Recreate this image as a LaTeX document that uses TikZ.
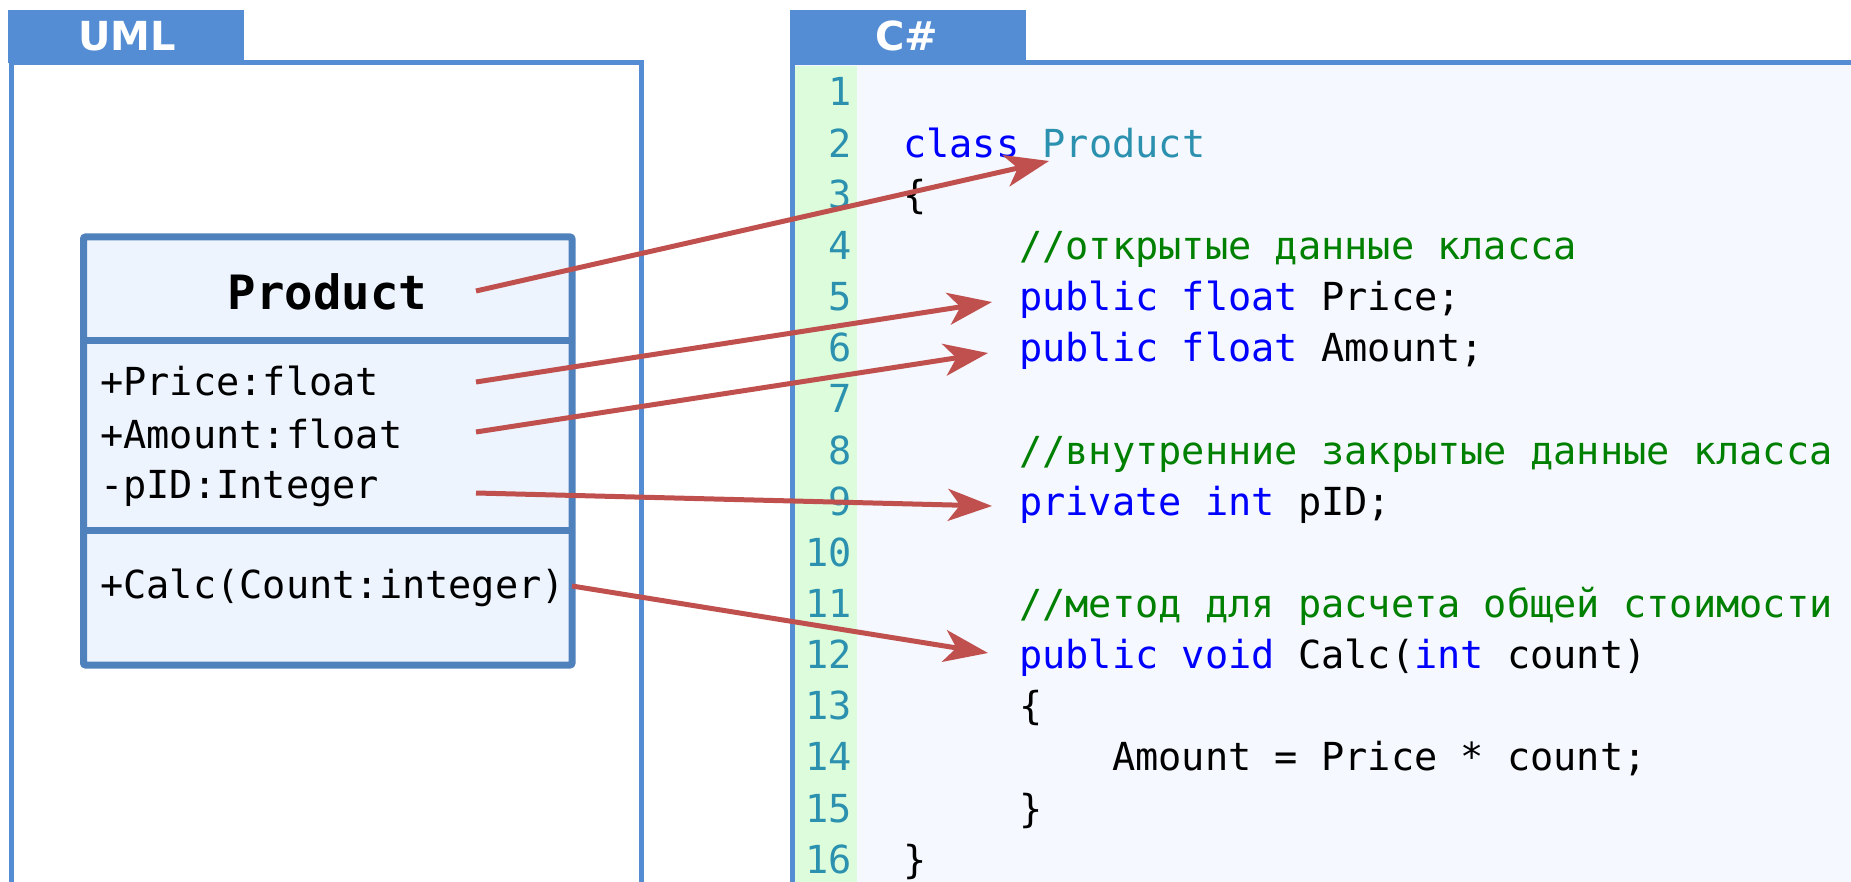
\documentclass[tikz,border=0pt]{standalone}
\usepackage{fontspec}
\usetikzlibrary{arrows.meta}
\newfontfamily\codefont{DejaVu Sans Mono}
\newfontfamily\tabfont{DejaVu Sans}
\definecolor{tabblue}{HTML}{548DD4}
\definecolor{umlblue}{HTML}{4F81BD}
\definecolor{umlfill}{HTML}{EDF4FE}
\definecolor{codebg}{HTML}{F5F8FE}
\definecolor{gutter}{HTML}{DCFCDC}
\definecolor{linkred}{HTML}{C0504D}
\definecolor{kwblue}{HTML}{0000FF}
\definecolor{typeteal}{HTML}{2B91AF}
\definecolor{cmtgreen}{HTML}{008000}
\newcommand{\kw}[1]{\textcolor{kwblue}{#1}}
\newcommand{\tp}[1]{\textcolor{typeteal}{#1}}
\newcommand{\cmt}[1]{\textcolor{cmtgreen}{#1}}
\begin{document}
\begin{tikzpicture}[x=1pt,y=-1pt,>={Stealth[length=44pt,width=32pt,inset=12pt]},
   code/.style={anchor=base west,inner sep=0,font=\codefont\fontsize{38.6}{46}\selectfont},
   lnum/.style={anchor=base east,inner sep=0,text=typeteal,font=\codefont\fontsize{38.6}{46}\selectfont},
   tab/.style={anchor=base,inner sep=0,text=white,font=\tabfont\bfseries\fontsize{40}{48}\selectfont},
   link/.style={->,draw=linkred,line width=5pt}]
   \useasboundingbox (0,0) rectangle (1851,882);
   \clip (0,0) rectangle (1851,882);

   % 枠
   \fill[codebg] (792,63) rectangle (1870,900);
   \fill[gutter] (794,66) rectangle (857,900);
   \fill[tabblue] (8,10) rectangle (244,63);
   \fill[tabblue] (790,10) rectangle (1026,63);
   \draw[tabblue,line width=5pt] (11.5,900) -- (11.5,63) -- (641,63) -- (641,900);
   \draw[tabblue,line width=5pt] (1870,63) -- (792,63) -- (792,900);
   \node[tab] (uml) at (127,51) {UML};
   \node[tab] (cs) at (907,51) {C\#};

   % クラス図
   \draw[umlblue,fill=umlfill,line width=7pt,rounded corners=2pt] (83.5,237) rectangle (572,665);
   \draw[umlblue,line width=7pt] (83.5,340.5) -- (572,340.5) (83.5,530) -- (572,530);
   \node[anchor=base,inner sep=0,font=\codefont\bfseries\fontsize{47.3}{56}\selectfont] (cname) at (327.5,310) {Product};
   \node[code] (price) at (100,395) {+Price:float};
   \node[code] (amount) at (100,448) {+Amount:float};
   \node[code] (pid) at (100,498) {-pID:Integer};
   \node[code] (calc) at (100,598) {+Calc(Count:integer)};

   % コード
   \foreach \i in {1,...,16}
      \node[lnum] (n\i) at (852,{106+51.15*(\i-1)}) {\i};
   \coordinate (lv0) at (903,0);
   \coordinate (lv1) at (1019,0);
   \coordinate (lv2) at (1112,0);
   \node[code] (c2) at (lv0 |- n2.base) {\kw{class} \tp{Product}};
   \node[code] (c3) at (lv0 |- n3.base) {\{};
   \node[code] (c4) at (lv1 |- n4.base) {\cmt{//открытые данные класса}};
   \node[code] (c5) at (lv1 |- n5.base) {\kw{public float} Price;};
   \node[code] (c6) at (lv1 |- n6.base) {\kw{public float} Amount;};
   \node[code] (c8) at (lv1 |- n8.base) {\cmt{//внутренние закрытые данные класса}};
   \node[code] (c9) at (lv1 |- n9.base) {\kw{private int} pID;};
   \node[code] (c11) at (lv1 |- n11.base) {\cmt{//метод для расчета общей стоимости}};
   \node[code] (c12) at (lv1 |- n12.base) {\kw{public void} Calc(\kw{int} count)};
   \node[code] (c13) at (lv1 |- n13.base) {\{};
   \node[code] (c14) at (lv2 |- n14.base) {Amount = Price * count;};
   \node[code] (c15) at (lv1 |- n15.base) {\}};
   \node[code] (c16) at (lv0 |- n16.base) {\}};

   % 矢印
   \coordinate (s1) at (476,291);
   \coordinate (s2) at (476,382);
   \coordinate (s3) at (476,432);
   \coordinate (s4) at (476,493);
   \coordinate (s5) at (572,586);
   \coordinate (t1) at (1049,161);
   \coordinate (t2) at (992,302);
   \coordinate (t3) at (988,353);
   \coordinate (t4) at (992,506);
   \coordinate (t5) at (988,653);
   \draw[link] (s1) -- (t1);
   \draw[link] (s2) -- (t2);
   \draw[link] (s3) -- (t3);
   \draw[link] (s4) -- (t4);
   \draw[link] (s5) -- (t5);
\end{tikzpicture}
\end{document}
